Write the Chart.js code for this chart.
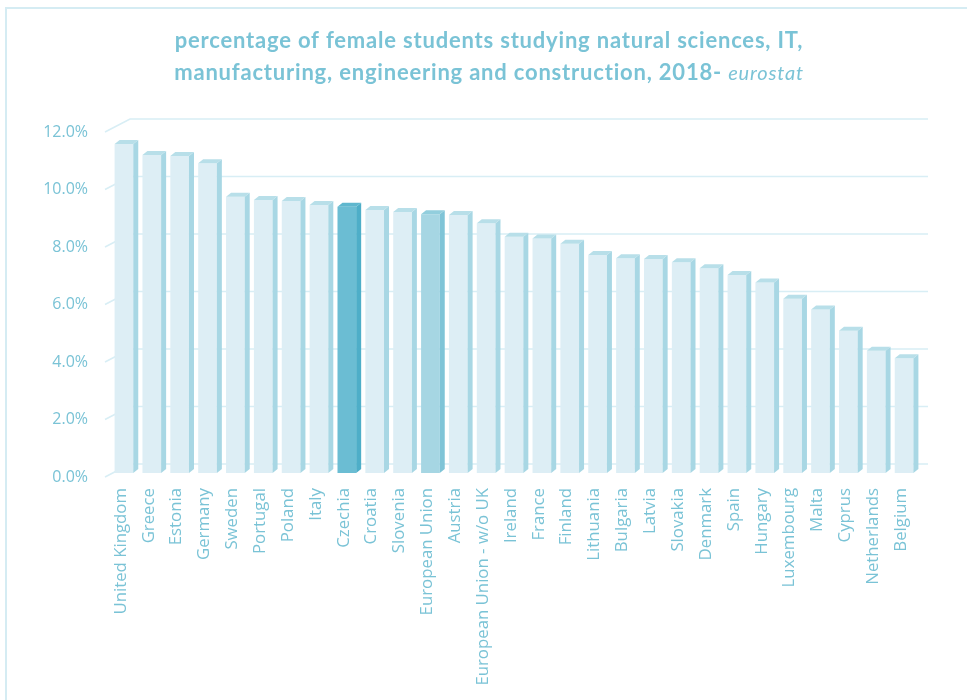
<!DOCTYPE html>
<html>
<head>
<meta charset="utf-8">
<title>Female students in STEM fields, 2018</title>
<script src="https://cdn.jsdelivr.net/npm/chart.js@4/dist/chart.umd.min.js"></script>
<style>
  html, body { margin: 0; padding: 0; background: #ffffff; }
  #wrap { position: relative; width: 967px; height: 700px; overflow: hidden; }
  canvas { display: block; }
</style>
</head>
<body>
<div id="wrap"><canvas id="chart" width="967" height="700"></canvas></div>
<script>
// Share of female students in natural sciences, IT, manufacturing,
// engineering and construction (percent), 2018
const categories = [
  'United Kingdom', 'Greece', 'Estonia', 'Germany', 'Sweden', 'Portugal',
  'Poland', 'Italy', 'Czechia', 'Croatia', 'Slovenia', 'European Union',
  'Austria', 'European Union - w/o UK', 'Ireland', 'France', 'Finland',
  'Lithuania', 'Bulgaria', 'Latvia', 'Slovakia', 'Denmark', 'Spain',
  'Hungary', 'Luxembourg', 'Malta', 'Cyprus', 'Netherlands', 'Belgium'
];
const femaleShare = [
  11.44, 11.06, 11.03, 10.77, 9.61, 9.50,
  9.46, 9.32, 9.26, 9.15, 9.08, 9.00,
  8.97, 8.69, 8.22, 8.16, 7.97,
  7.58, 7.47, 7.44, 7.33, 7.12, 6.89,
  6.63, 6.06, 5.69, 4.95, 4.25, 3.99
];
const yTickValues = [0, 2, 4, 6, 8, 10, 12];
const highlighted = { 'Czechia': 'home', 'European Union': 'eu' };

const titleLine1 = 'percentage of female students studying natural sciences, IT,';
const titleLine2 = 'manufacturing, engineering and construction, 2018-';
const titleSource = 'eurostat';

// ---- styling ----
const TEXT = '#7ac3d6';
const GRID = '#d8eef5';
const FACES = {
  normal: { front: '#ddeef5', side: '#a8d7e4', top: '#b8dfe9' },
  home:   { front: '#6bbdd3', side: '#4eaec8', top: '#5fb7ce' },
  eu:     { front: '#a6d6e3', side: '#7fc4d7', top: '#92cedd' }
};
const faceFor = i => FACES[highlighted[categories[i]] || 'normal'];
const BAR_DEPTH = { dx: 5, dy: 4 };

// frame around the whole chart
const framePlugin = {
  id: 'frame',
  beforeDraw(chart) {
    const { ctx } = chart;
    ctx.save();
    ctx.strokeStyle = '#d5ecf3';
    ctx.lineWidth = 2;
    ctx.strokeRect(6, 8, 1100, 900);
    ctx.restore();
  }
};

// side wall and back wall gridlines of the 3D plot box
const wallsPlugin = {
  id: 'walls',
  beforeDatasetsDraw(chart) {
    const { ctx, chartArea: a, scales: { y } } = chart;
    ctx.save();
    ctx.strokeStyle = GRID;
    ctx.lineWidth = 1.6;
    y.ticks.forEach(t => {
      const py = y.getPixelForValue(t.value);
      ctx.beginPath();
      ctx.moveTo(a.left - 5, py + 4);
      ctx.lineTo(a.left + 20, py - 9);
      ctx.lineTo(a.right + 10, py - 9);
      ctx.stroke();
    });
    ctx.restore();
  }
};

// right side and top faces of every column
const columnsPlugin = {
  id: 'columns3d',
  afterDatasetsDraw(chart) {
    const { ctx } = chart;
    const meta = chart.getDatasetMeta(0);
    const { dx, dy } = BAR_DEPTH;
    ctx.save();
    meta.data.forEach((bar, i) => {
      const { x, y, width, base } = bar.getProps(['x', 'y', 'width', 'base'], true);
      const l = x - width / 2, r = x + width / 2;
      const f = faceFor(i);
      ctx.fillStyle = f.side;
      ctx.beginPath();
      ctx.moveTo(r, y);
      ctx.lineTo(r + dx, y - dy);
      ctx.lineTo(r + dx, base - dy);
      ctx.lineTo(r, base);
      ctx.closePath();
      ctx.fill();
      ctx.fillStyle = f.top;
      ctx.beginPath();
      ctx.moveTo(l, y);
      ctx.lineTo(l + dx, y - dy);
      ctx.lineTo(r + dx, y - dy);
      ctx.lineTo(r, y);
      ctx.closePath();
      ctx.fill();
    });
    ctx.restore();
  }
};

// two-line heading with the source in italics
const headingPlugin = {
  id: 'heading',
  afterDraw(chart) {
    const { ctx } = chart;
    const cx = 489;
    const bold = 'bold 22px Lato';
    const ital = 'italic 20px Lato';
    ctx.save();
    ctx.fillStyle = TEXT;
    ctx.textBaseline = 'middle';
    ctx.textAlign = 'left';
    if ('letterSpacing' in ctx) ctx.letterSpacing = '0.8px';
    ctx.font = bold;
    const w1 = ctx.measureText(titleLine1).width;
    ctx.fillText(titleLine1, cx - w1 / 2, 41);
    const wa = ctx.measureText(titleLine2 + ' ').width;
    ctx.font = ital;
    const wb = ctx.measureText(titleSource).width;
    const x0 = cx - (wa + wb) / 2;
    ctx.font = bold;
    ctx.fillText(titleLine2, x0, 73);
    ctx.font = ital;
    ctx.fillText(titleSource, x0 + wa, 74);
    ctx.restore();
  }
};

new Chart(document.getElementById('chart'), {
  type: 'bar',
  data: {
    labels: categories,
    datasets: [{
      data: femaleShare,
      backgroundColor: categories.map((_, i) => faceFor(i).front),
      borderWidth: 0,
      categoryPercentage: 1,
      barPercentage: 0.67
    }]
  },
  options: {
    responsive: false,
    animation: false,
    layout: { padding: { top: 128, right: 49, bottom: 0, left: 0 } },
    plugins: {
      legend: { display: false },
      tooltip: { enabled: false },
      title: { display: false }
    },
    scales: {
      x: {
        offset: true,
        grid: { display: false, drawTicks: false },
        border: { display: false },
        ticks: {
          autoSkip: false,
          minRotation: 90,
          maxRotation: 90,
          padding: 15,
          labelOffset: -3,
          color: TEXT,
          font: { family: 'Open Sans', size: 16.8 }
        },
        afterFit(s) { s.height = 227; }
      },
      y: {
        min: 0,
        max: 12,
        grid: { display: false, drawTicks: false },
        border: { display: false },
        afterBuildTicks(s) { s.ticks = yTickValues.map(v => ({ value: v })); },
        ticks: {
          padding: 22,
          labelOffset: 4,
          color: TEXT,
          font: { family: 'Open Sans', size: 16 },
          callback: v => v.toFixed(1) + '%'
        },
        afterFit(s) { s.width = 110; }
      }
    }
  },
  plugins: [framePlugin, wallsPlugin, columnsPlugin, headingPlugin]
});
</script>
</body>
</html>
